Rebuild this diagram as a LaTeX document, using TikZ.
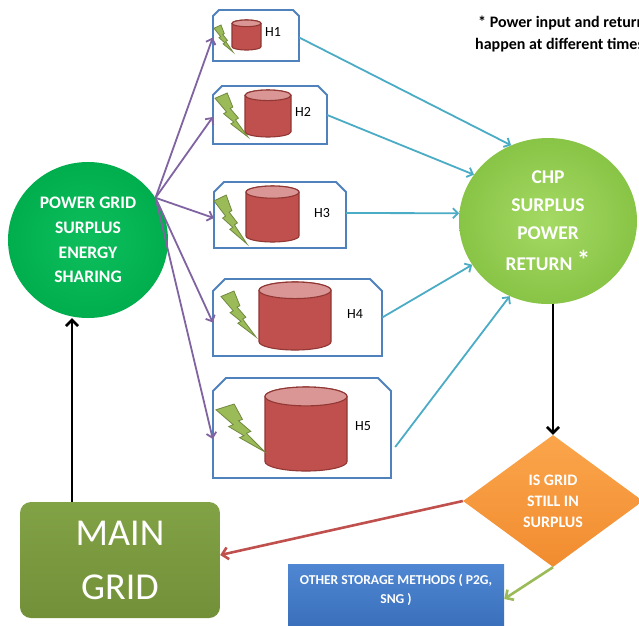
\documentclass[tikz,border=0pt]{standalone}
\usepackage{fontspec}
\setmainfont{Carlito}
\usetikzlibrary{arrows.meta,shapes.geometric}
\definecolor{pgin}{RGB}{14,190,92}
\definecolor{pgout}{RGB}{0,174,78}
\definecolor{chpin}{RGB}{165,218,100}
\definecolor{chpout}{RGB}{136,196,70}
\definecolor{mgtop}{RGB}{130,162,70}
\definecolor{mgbot}{RGB}{114,144,56}
\definecolor{diatop}{RGB}{251,165,75}
\definecolor{diabot}{RGB}{241,140,48}
\definecolor{bltop}{RGB}{80,135,210}
\definecolor{blbot}{RGB}{50,104,180}
\definecolor{hblue}{RGB}{79,129,189}
\definecolor{cylred}{RGB}{192,80,77}
\definecolor{cyldark}{RGB}{145,55,52}
\definecolor{cyltopc}{RGB}{217,150,148}
\definecolor{boltg}{RGB}{155,187,89}
\definecolor{boltdark}{RGB}{113,137,63}
\definecolor{purp}{RGB}{128,100,162}
\definecolor{cyanarr}{RGB}{75,172,198}
\definecolor{redarr}{RGB}{192,80,77}
\definecolor{greenarr}{RGB}{155,187,89}
\newcommand\mkhbox[6]{%
  \node[hframe, minimum width={#4-#2}, minimum height={#5-#3}] (#1) at ({(#2+#4)/2},{(#3+#5)/2}) {};
  \draw[hborder] (#2,#5) -- (#2,#3+#6) -- (#2+#6,#3) -- (#4-#6,#3) -- (#4,#3+#6) -- (#4,#5) -- cycle;
}
\newcommand\drawcyl[4]{%
  \pgfmathsetmacro\cylcx{(#1+#3)/2}%
  \pgfmathsetmacro\cylrx{(#3-#1)/2}%
  \pgfmathsetmacro\cylry{0.23*\cylrx}%
  \pgfmathsetmacro\cylyt{#2+\cylry}%
  \pgfmathsetmacro\cylyb{#4-\cylry}%
  \draw[cylbody] (#1,\cylyt) -- (#1,\cylyb) arc[start angle=180,end angle=360,x radius=\cylrx pt,y radius=\cylry pt] -- (#3,\cylyt) arc[start angle=0,end angle=180,x radius=\cylrx pt,y radius=\cylry pt] -- cycle;
  \draw[cyltop] (\cylcx,\cylyt) ellipse[x radius=\cylrx pt,y radius=\cylry pt];
}
\newcommand\drawbolt[4]{%
  \pgfmathsetmacro\boltw{#3-#1}%
  \pgfmathsetmacro\bolth{#4-#2}%
  \begin{scope}[shift={(#1,#2)},x=\boltw pt,y=-\bolth pt]
    \draw[boltstyle] (0,0.12) -- (0.37,0) -- (0.54,0.32) -- (0.46,0.35) -- (0.71,0.57) -- (0.62,0.61) -- (1,1) -- (0.48,0.70) -- (0.57,0.66) -- (0.26,0.47) -- (0.35,0.43) -- cycle;
  \end{scope}
}
\begin{document}
\begin{tikzpicture}[x=1pt,y=-1pt,
  hframe/.style={rectangle, inner sep=0, draw=none},
  hborder/.style={draw=hblue, line width=1.8pt, fill=white, line join=miter},
  cylbody/.style={draw=cyldark, line width=1.1pt, fill=cylred},
  cyltop/.style={draw=cyldark, line width=1.1pt, fill=cyltopc},
  boltstyle/.style={draw=boltdark, line width=0.8pt, fill=boltg, line join=miter},
  hlabel/.style={font=\fontsize{14}{16}\selectfont, inner sep=0},
  pgnode/.style={ellipse, minimum width=160, minimum height=156, inner sep=0, inner color=pgin, outer color=pgout, align=center, text=white, font=\bfseries\fontsize{17.6}{24.6}\selectfont},
  chpnode/.style={ellipse, minimum width=178, minimum height=166, inner sep=0, inner color=chpin, outer color=chpout, align=center, text=white, font=\bfseries\fontsize{19.5}{28}\selectfont},
  mgnode/.style={rectangle, rounded corners=11pt, minimum width=200, minimum height=116, inner sep=0, top color=mgtop, bottom color=mgbot, align=center, text=white, font=\fontsize{38}{54}\selectfont},
  dianode/.style={diamond, minimum width=180, minimum height=132, inner sep=0, top color=diatop, bottom color=diabot, align=center, text=white, font=\bfseries\fontsize{16}{21}\selectfont},
  bluenode/.style={rectangle, minimum width=216, minimum height=82, inner sep=0, top color=bltop, bottom color=blbot},
  bluetext/.style={text=white, font=\bfseries\fontsize{13.6}{19}\selectfont, align=center, inner sep=0},
  notetext/.style={font=\bfseries\fontsize{16}{18}\selectfont, inner sep=0, anchor=west},
  purplearrow/.style={draw=purp, line width=1.8pt, -{Straight Barb[length=5pt,width=10pt]}},
  cyanarrow/.style={draw=cyanarr, line width=1.8pt, -{Straight Barb[length=5pt,width=10pt]}},
  blackarrow/.style={draw=black, line width=2.6pt, -{Straight Barb[length=6pt,width=12pt]}},
  redarrow/.style={draw=redarr, line width=2.6pt, -{Straight Barb[length=6pt,width=12pt]}},
  greenarrow/.style={draw=greenarr, line width=2.6pt, -{Straight Barb[length=6pt,width=12pt]}}
]
\useasboundingbox (0,0) rectangle (639,625);
\clip (0,0) rectangle (639,625);
\fill[white] (0,0) rectangle (639,625);

% main nodes
\node[pgnode] (pg) at (88,240) {POWER GRID\\SURPLUS\\ENERGY\\SHARING};
\node[chpnode] (chp) at (548,221) {CHP\\SURPLUS\\POWER\\[3pt]RETURN {\fontsize{27}{27}\selectfont\raisebox{1pt}{*}}};
\node[mgnode] (mg) at (120,560) {MAIN\\GRID};
\node[dianode] (dia) at (553,501) {IS GRID\\STILL IN\\SURPLUS};
\node[bluenode] (blue) at (396,605) {};
\node[bluetext, anchor=north] (bluelab) at ([yshift=-10pt]blue.north) {OTHER STORAGE METHODS ( P2G,\\SNG )};

% note
\node[notetext] (note1) at (478,23) {* Power input and return};
\node[notetext] (note2) at (475,45) {happen at different times};

% house boxes
\mkhbox{h1}{213}{10}{299}{61}{6}
\mkhbox{h2}{213}{86}{327}{144}{9}
\mkhbox{h3}{214}{182}{346}{248}{10}
\mkhbox{h4}{213}{279}{382}{356}{12}
\mkhbox{h5}{213}{378}{391}{478}{13}

\drawcyl{232}{20}{261}{50}
\drawcyl{245}{90}{291}{137}
\drawcyl{246}{186}{299}{242}
\drawcyl{259}{282}{331}{350}
\drawcyl{265}{387}{347}{471}

\drawbolt{214}{25}{233}{52}
\drawbolt{215}{93}{248}{137}
\drawbolt{214}{195}{247}{244}
\drawbolt{221}{291}{256}{337}
\drawbolt{216}{404}{265}{452}

\node[hlabel] (h1t) at (273,32) {H1};
\node[hlabel] (h2t) at (303,112) {H2};
\node[hlabel] (h3t) at (322,213) {H3};
\node[hlabel] (h4t) at (355,314) {H4};
\node[hlabel] (h5t) at (363,426) {H5};

% purple arrows
\draw[purplearrow] (pg.32) -- ([yshift=-2pt]h1.west);
\draw[purplearrow] (pg.32) -- ([yshift=-2pt]h2.west);
\draw[purplearrow] (pg.32) -- ([yshift=-3pt]h3.west);
\draw[purplearrow] (pg.32) -- ([yshift=-5pt]h4.west);
\draw[purplearrow] (pg.32) -- ([yshift=-11pt]h5.west);

% cyan arrows
\draw[cyanarrow] ([yshift=-2pt]h1.east) -- (chp.116);
\draw[cyanarrow] (h2.east) -- (chp.148);
\draw[cyanarrow] ([yshift=2pt]h3.east) -- (chp.175);
\draw[cyanarrow] (h4.east) -- (chp.210);
\draw[cyanarrow] ([xshift=4pt,yshift=-19pt]h5.east) -- (chp.243);

% other arrows
\draw[blackarrow] ([xshift=-48pt]mg.north) -- ([xshift=-48pt]mg.north |- pg.south);
\draw[blackarrow] (dia.north |- chp.south) -- (dia.north);
\draw[redarrow] (dia.west) -- ([yshift=5pt]mg.east);
\draw[greenarrow] (dia.south) -- ([yshift=6pt]blue.east);
\end{tikzpicture}
\end{document}
